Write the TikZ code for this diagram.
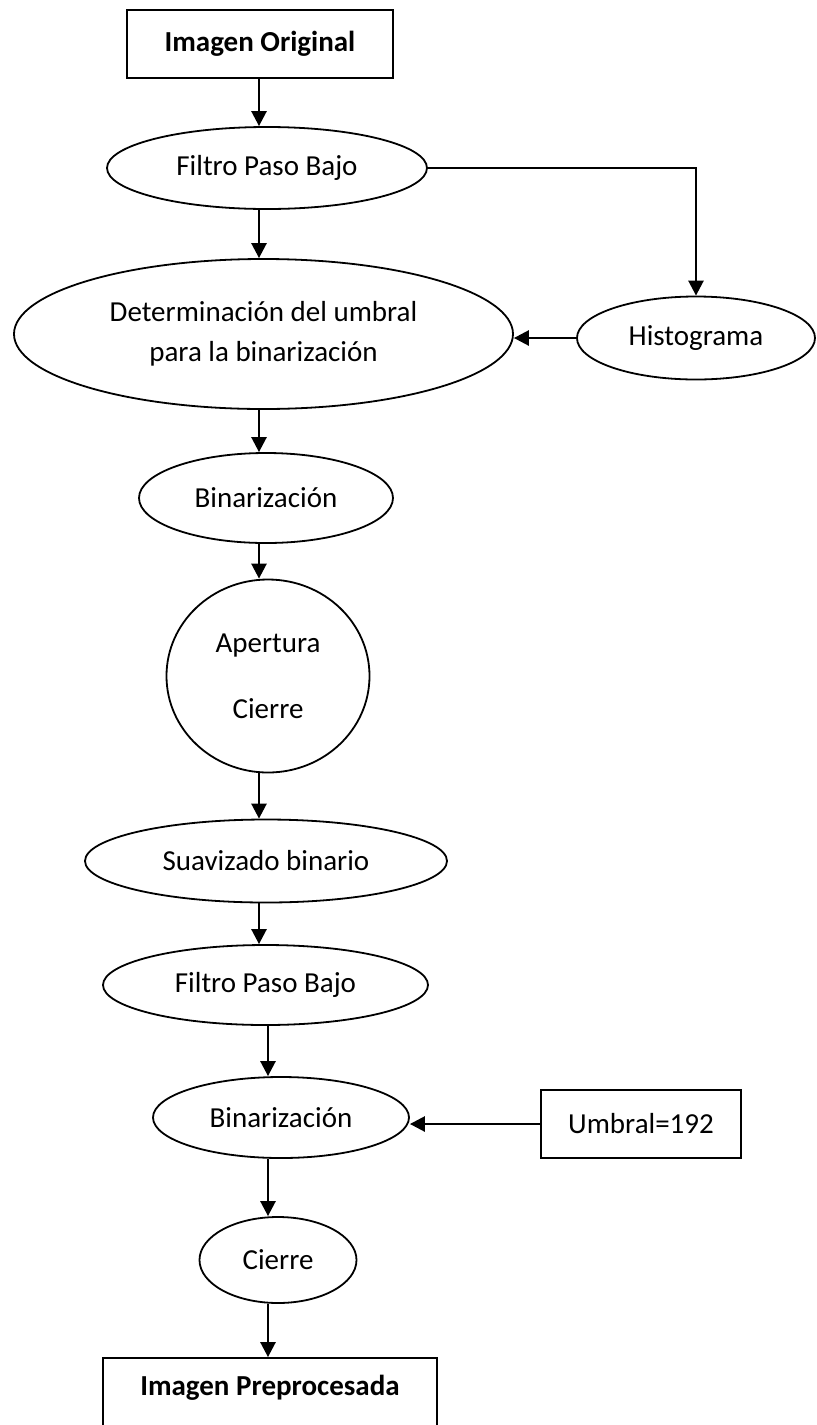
\documentclass[tikz,border=0pt]{standalone}
\usepackage{fontspec}
\setmainfont{Carlito}
\usetikzlibrary{shapes.geometric,arrows.meta}
\newcommand{\letra}{\fontsize{14.5}{20}\selectfont}
\begin{document}
\begin{tikzpicture}[x=0.5pt,y=-0.5pt,
    font=\letra,
    every node/.style={inner sep=0pt},
    caja/.style={draw,line width=0.9pt,rectangle},
    elip/.style={draw,line width=0.9pt,ellipse},
    flecha/.style={line width=1.3pt,-{Triangle[length=7.5pt,width=7.5pt]}}]
      \fill[white] (0,0) rectangle (817,1425);
      \useasboundingbox (0,0) rectangle (817,1425);
      \draw
        (260,44) node[caja,minimum width=133pt,minimum height=34pt,font=\letra\bfseries] (ori){Imagen Original}
        (267,168) node[elip,minimum width=160pt,minimum height=41pt] (filtroA){Filtro Paso Bajo}
        (263.5,334) node[elip,minimum width=249.5pt,minimum height=75pt,align=center] (umbralDet){Determinación del umbral\\para la binarización}
        (696,338) node[elip,minimum width=119pt,minimum height=41.5pt] (hist){Histograma}
        (266,498) node[elip,minimum width=127pt,minimum height=45pt] (binA){Binarización}
        (268,676) node[elip,minimum width=101.5pt,minimum height=96.5pt,align=center,font=\fontsize{14.5}{33}\selectfont] (apert){Apertura\\Cierre}
        (266,861) node[elip,minimum width=181pt,minimum height=41.5pt] (suav){Suavizado binario}
        (265.5,985) node[elip,minimum width=162.5pt,minimum height=40pt] (filtroB){Filtro Paso Bajo}
        (281,1117.5) node[elip,minimum width=128pt,minimum height=40.5pt] (binB){Binarización}
        (641,1124) node[caja,minimum width=100pt,minimum height=34pt] (umbral){Umbral=192}
        (278,1260) node[elip,minimum width=78.5pt,minimum height=43pt] (cierre){Cierre}
        (270,1395) node[caja,minimum width=167pt,minimum height=37pt,text depth=10pt,font=\letra\bfseries] (final){Imagen Preprocesada};
      \coordinate (colA) at (259,0);
      \coordinate (colB) at (268,0);
      \begin{scope}[flecha]
        \draw (ori.south -| colA) to (filtroA.north -| colA);
        \draw (filtroA.south -| colA) to (umbralDet.north -| colA);
        \draw (umbralDet.south -| colA) to (binA.north -| colA);
        \draw (binA.south -| colA) to (apert.north -| colA);
        \draw (apert.south -| colA) to (suav.north -| colA);
        \draw (suav.south -| colA) to (filtroB.north -| colA);
        \draw (filtroB.south -| colB) to (binB.north -| colB);
        \draw (binB.south -| colB) to (cierre.north -| colB);
        \draw (cierre.south -| colB) to (final.north -| colB);
        \draw (filtroA.east) -| (hist.north);
        \draw (hist.west) to (hist.west -| umbralDet.east);
        \draw (umbral.west) to (umbral.west -| binB.east);
      \end{scope}
    \end{tikzpicture}
\end{document}
